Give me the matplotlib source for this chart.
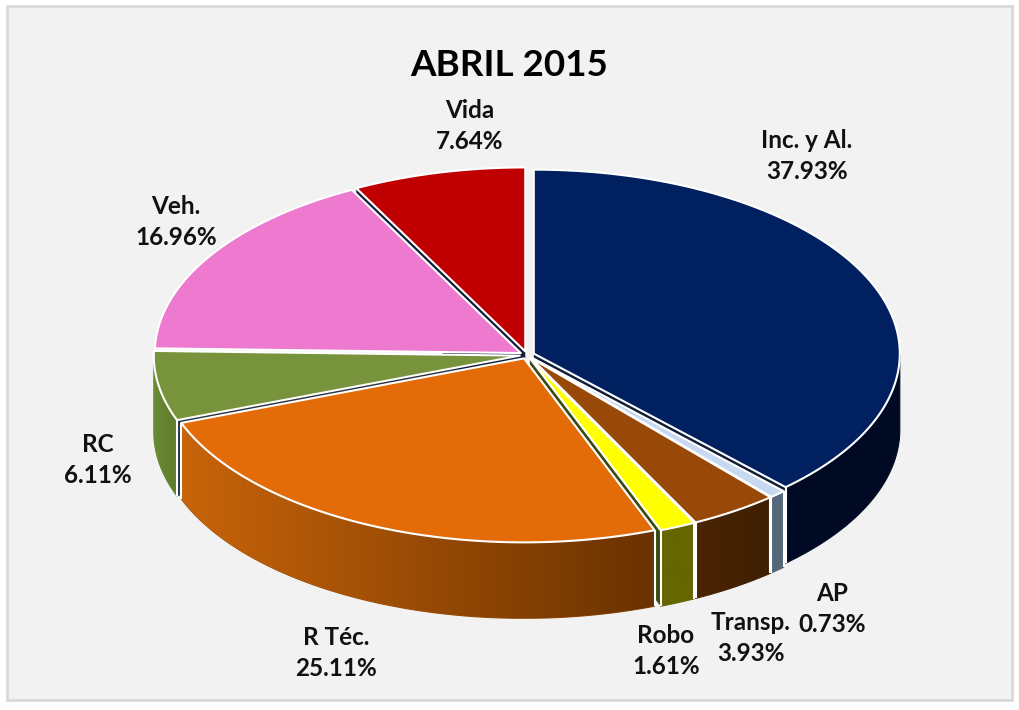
"""Tilted 3D-looking pie for ABRIL 2015, drawn from polygons on a pixel-like axes."""
import numpy as np
import matplotlib
matplotlib.use("Agg")
import matplotlib.pyplot as plt
from matplotlib.colors import to_rgb
from matplotlib.patches import Polygon, Rectangle

names = ["Inc. y Al.", "AP", "Transp.", "Robo", "R Téc.", "RC", "Veh.", "Vida"]
values = [37.93, 0.73, 3.93, 1.61, 25.11, 6.11, 16.96, 7.64]

top_colors = ["#002060", "#c6d9f1", "#984807", "#ffff00", "#e36c09", "#77933c", "#ee7ad0", "#c00000"]
# wall colours: side_right is at the right end of a slice's wall, side_left at the left end
side_right = ["#000a24", "#55677a", "#3f1f02", "#666600", "#6a3200", "#5f7a2c", "#b85f9e", "#800000"]
side_left = ["#000a24", "#55677a", "#4a2402", "#666600", "#c8640a", "#6b8a33", "#b85f9e", "#800000"]
wall_colors = ["#101c38", "#101c38", "#3f1f02", "#3a4a10", "#2a3040", "#2a3040", "#101c38", "#101c38"]

label_xy = [(807, 156), (832, 609), (751, 638), (666, 651), (336, 653), (98, 460), (176, 222), (470, 126)]

CX, CY = 527, 355
RX, RY = 366, 184
DEPTH = 76
EXPLODE = 0.02
EDGE = "#ffffff"


def rim(theta, ox, oy):
    return ox + RX * np.sin(theta), oy - RY * np.cos(theta)


def origin(t0, t1):
    mid = (t0 + t1) / 2
    return CX + EXPLODE * RX * np.sin(mid), CY - EXPLODE * RY * np.cos(mid)


def draw_walls(ax, i, t0, t1):
    # radial walls, only seen through the gaps; nearly flat ones stay hidden
    ox, oy = origin(t0, t1)
    for t in (t0, t1):
        if abs(np.sin(t)) > 0.99:
            continue
        x, y = rim(t, ox, oy)
        ax.add_patch(Polygon([(ox, oy), (x, y), (x, y + DEPTH), (ox, oy + DEPTH)],
                             fc=wall_colors[i], ec="none"))


def draw_side(ax, i, t0, t1):
    # outer wall, only the part facing the viewer
    a0, a1 = max(t0, np.pi / 2), min(t1, 3 * np.pi / 2)
    if a1 <= a0:
        return
    ox, oy = origin(t0, t1)
    ts = np.linspace(a0, a1, 120)
    xs, ys = rim(ts, ox, oy)
    pts = np.r_[np.column_stack([xs, ys]), np.column_stack([xs[::-1], ys[::-1] + DEPTH])]
    c_left, c_right = np.array(to_rgb(side_left[i])), np.array(to_rgb(side_right[i]))
    grad = np.linspace(c_left, c_right, 256)[None, :, :]
    shape = Polygon(pts, fc="none", ec=tuple((c_left + c_right) / 2), lw=0.8)
    ax.add_patch(shape)
    im = ax.imshow(grad, extent=(xs.min(), xs.max(), ys.max() + DEPTH, ys.min()),
                   aspect="auto", interpolation="bilinear", zorder=shape.get_zorder())
    im.set_clip_path(shape)
    for t in (t0, t1):
        if np.pi / 2 < t < 3 * np.pi / 2:
            x, y = rim(t, ox, oy)
            ax.plot([x, x], [y, y + DEPTH], color=EDGE, lw=1.5, solid_capstyle="butt", zorder=3)


def draw_top(ax, i, t0, t1):
    ox, oy = origin(t0, t1)
    xs, ys = rim(np.linspace(t0, t1, 120), ox, oy)
    pts = np.column_stack([np.r_[ox, xs], np.r_[oy, ys]])
    ax.add_patch(Polygon(pts, fc=top_colors[i], ec=EDGE, lw=1.5, joinstyle="round", zorder=4))


fig = plt.figure(figsize=(10.2, 7.1), dpi=100, facecolor="white")
ax = fig.add_axes([0, 0, 1, 1])
ax.axis("off")
ax.add_patch(Rectangle((7, 6), 1005, 694, fc="#f2f2f2", ec="#d9d9d9", lw=2))

edges = np.r_[0, np.cumsum(values)] / np.sum(values) * 2 * np.pi
for draw in (draw_walls, draw_side, draw_top):
    for i in range(len(values)):
        draw(ax, i, edges[i], edges[i + 1])
ax.set_xlim(0, 1020)
ax.set_ylim(710, 0)

font = ["Lato", "DejaVu Sans"]
ax.text(509, 65, "ABRIL 2015", ha="center", va="center", fontsize=26.5, fontweight="bold",
        family=font, color="black", zorder=5)
for name, val, (x, y) in zip(names, values, label_xy):
    ax.text(x, y, f"{name}\n{val:.2f}%", ha="center", va="center", fontsize=17.5,
            fontweight="bold", family=font, color="#111111", linespacing=1.4, zorder=5)

fig.savefig("out.png", dpi=100)
